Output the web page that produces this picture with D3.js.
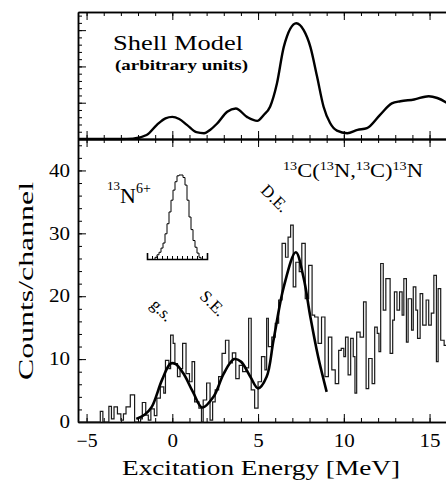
<!DOCTYPE html>
<html>
<head>
<meta charset="utf-8">
<title>13C(13N,13C)13N spectrum</title>
<script src="https://d3js.org/d3.v7.min.js"></script>
<style>
  body { margin: 0; background: #fff; }
  svg text { font-family: "Liberation Serif", "Times New Roman", serif; fill: #000; }
  .axis path, .axis line { stroke: #000; }
</style>
</head>
<body>
<svg id="chart" width="446" height="480"></svg>
<script>
// shell model curve (arbitrary units)
var smX = [-5.5, -3, -2.3, -1.5, -0.9, -0.4, 0, 0.4, 0.85, 1.4, 1.85, 2.2, 2.6, 3.2, 3.7, 4.35, 4.95, 5.33, 5.7, 6.1,
           6.5, 7.23, 7.66, 8.05, 8.44, 8.82, 9.2, 9.6, 10.2, 10.8, 11.35, 12.1, 12.8, 13.3, 14.1, 14.95, 15.45, 16, 16.6];
var smY = [0, 0, 0.01, 0.11, 0.39, 0.57, 0.61, 0.55, 0.39, 0.19, 0.16, 0.25, 0.42, 0.75, 0.84, 0.61, 0.5, 0.66, 0.89, 1.53,
           2.54, 3.19, 3.0, 2.54, 1.72, 0.89, 0.44, 0.23, 0.16, 0.25, 0.3, 0.66, 0.98, 1.04, 1.09, 1.18, 1.13, 1.0, 0.8];

// measured spectrum: left edge of each bin (MeV) and counts
var binEdges = [-5.5, -4.2, -4.05, -3.7, -3.55, -3.4, -3.2, -3.0, -2.85, -2.7,
                -2.45, -2.2, -1.85, -1.75, -1.55, -1.4, -1.25, -1.05, -0.9, -0.7,
                -0.5, -0.4, -0.2, -0.1, 0.05, 0.15, 0.3, 0.45, 0.6, 0.8,
                1.0, 1.15, 1.3, 1.55, 1.7, 1.8, 2.0, 2.2, 2.35, 2.5,
                2.7, 2.9, 3.1, 3.3, 3.5, 3.7, 3.9, 4.1, 4.3, 4.45,
                4.6, 4.8, 5.0, 5.2, 5.4, 5.5, 5.6, 5.8, 6.0, 6.2,
                6.4, 6.6, 6.75, 6.9, 7.05, 7.2, 7.4, 7.55, 7.75, 7.95,
                8.15, 8.3, 8.5, 8.7, 8.9, 9.1, 9.3, 9.5, 9.7, 9.85,
                10.0, 10.1, 10.25, 10.4, 10.55, 10.65, 10.75, 10.95, 11.15, 11.3,
                11.45, 11.65, 11.8, 11.95, 12.05, 12.15, 12.3, 12.45, 12.7, 12.85,
                12.95, 13.1, 13.25, 13.4, 13.5, 13.65, 13.75, 13.95, 14.05, 14.2,
                14.3, 14.45, 14.6, 14.8, 14.95, 15.1, 15.25, 15.4, 15.5, 15.65,
                15.85, 16.05];
var counts = [0, 1.7, 0, 2.5, 0.5, 2.4, 1.3, 0.3, 1.3, 2.4,
              4.3, 0, 0.5, 3.1, 1.1, 0.3, 2.1, 1, 3.8, 5.6,
              4.6, 9.8, 8.5, 13.8, 12.5, 9.3, 7.2, 8.5, 12.5, 7.7,
              6.4, 9.6, 3.2, 2.2, 0, 3.5, 6.2, 0.3, 3.2, 5.1,
              7.2, 10.9, 13, 9.4, 11, 6.9, 9, 8, 8.6, 16.5,
              5.1, 2.2, 6.4, 10.4, 8.3, 16.5, 12, 13.5, 15.7, 19.4,
              28.4, 26.2, 29.4, 31.3, 21.5, 25.4, 23.9, 28.4, 19.6, 24.9,
              17, 16.7, 12.5, 16.7, 7.2, 13.5, 8.3, 6.1, 11.4, 11.7,
              10.4, 13.5, 7.5, 13.3, 10.4, 4.6, 14.3, 13.5, 19.1, 5.3,
              10.1, 6.1, 15.1, 14.1, 11.2, 25.2, 17.8, 22.8, 10.9, 16.2,
              20.7, 17.8, 20.7, 17, 22.8, 12.7, 19.6, 14.6, 21.5, 17.8,
              13.3, 20.4, 15.4, 19.4, 15.4, 17.3, 23.3, 9.6, 21.2, 13,
              12.2, 17];

// fit through g.s., S.E., D.E.
var fitX = [-2.1, -1.6, -1.2, -0.6, -0.1, 0.2, 0.65, 1.2, 1.75, 2.4, 3.0, 3.6, 4.0, 4.55, 5.0, 5.5, 5.9, 6.5, 7.2, 7.65, 8.05, 8.5, 9.0];
var fitY = [0.5, 1.2, 2.4, 6.7, 9.3, 9.2, 7.7, 4.8, 2.3, 4.0, 7.7, 10.0, 9.6, 7.2, 5.35, 7.2, 13, 21.5, 27, 23, 16.7, 10.4, 4.8];

// inset: 13N6+ beam peak (channels, relative counts)
var insetChannels = [4, 5, 6, 7, 8, 9, 10, 11, 12, 13, 14, 15, 16, 17, 18, 19, 20, 21, 22, 23, 24, 25, 26];
var insetCounts = [2, 5, 8, 13, 19, 30, 42, 56, 70, 82, 92, 99, 100, 100, 97, 88, 70, 50, 35, 22, 14, 7, 2];

var xMajor = [-5, 0, 5, 10, 15];
var yMajor = [0, 10, 20, 30, 40];

var svg = d3.select("#chart");

var x = d3.scaleLinear().domain([-5.5, 16.6]).range([78, 457]);
var yTop = d3.scaleLinear().domain([0, 3.5]).range([139, 12]);
var yBot = d3.scaleLinear().domain([0, 45]).range([422, 139]);

var xMinor = d3.range(-5, 17, 1);
var serif = "'Liberation Serif', 'Times New Roman', serif";

function styleAxis(g, w) {
    g.attr("class", "axis").attr("font-family", null);
    g.select(".domain").attr("stroke-width", w);
    g.selectAll(".tick line").attr("stroke-width", 1);
    g.selectAll("text")
        .style("font-family", serif).style("font-size", "18px").attr("fill", "#000")
        .attr("textLength", function () { return this.textContent.length * 10.5; })
        .attr("lengthAdjust", "spacingAndGlyphs");
}

// ---- bottom axis of lower panel
svg.append("g").attr("transform", "translate(0,422)")
    .call(d3.axisBottom(x).tickValues(xMinor).tickSize(-4).tickSizeOuter(0).tickFormat(""))
    .call(styleAxis, 1.5);
svg.append("g").attr("transform", "translate(0,422)")
    .call(d3.axisBottom(x).tickValues(xMajor).tickSize(-8).tickSizeOuter(0).tickPadding(12)
        .tickFormat(function (d) { return d < 0 ? "\u2212" + Math.abs(d) : d; }))
    .call(styleAxis, 1.5);

// ---- middle line: ticks up (top panel) and down (lower panel)
[-4, 4].forEach(function (s) {
    svg.append("g").attr("transform", "translate(0,139)")
        .call(d3.axisBottom(x).tickValues(xMinor).tickSize(s).tickSizeOuter(0).tickFormat(""))
        .call(styleAxis, 1.5);
});
[-8, 8].forEach(function (s) {
    svg.append("g").attr("transform", "translate(0,139)")
        .call(d3.axisBottom(x).tickValues(xMajor).tickSize(s).tickSizeOuter(0).tickFormat(""))
        .call(styleAxis, 1.5);
});

// ---- top line
svg.append("g").attr("transform", "translate(0,12)")
    .call(d3.axisTop(x).tickValues(xMinor).tickSize(-4).tickSizeOuter(0).tickFormat(""))
    .call(styleAxis, 1.5);
svg.append("g").attr("transform", "translate(0,12)")
    .call(d3.axisTop(x).tickValues(xMajor).tickSize(-8).tickSizeOuter(0).tickFormat(""))
    .call(styleAxis, 1.5);

// ---- left axes
svg.append("g").attr("transform", "translate(78,0)")
    .call(d3.axisLeft(yBot).tickValues(d3.range(0, 46, 2)).tickSize(-4).tickSizeOuter(0).tickFormat(""))
    .call(styleAxis, 1.5);
svg.append("g").attr("transform", "translate(78,0)")
    .call(d3.axisLeft(yBot).tickValues(yMajor).tickSize(-8).tickSizeOuter(0).tickPadding(8))
    .call(styleAxis, 1.5);
svg.append("g").attr("transform", "translate(78,0)")
    .call(d3.axisLeft(yTop).tickValues(d3.range(0, 3.5, 0.2)).tickSize(-4).tickSizeOuter(0).tickFormat(""))
    .call(styleAxis, 1.5);
svg.append("g").attr("transform", "translate(78,0)")
    .call(d3.axisLeft(yTop).tickValues([0, 1, 2, 3]).tickSize(-8).tickSizeOuter(0).tickFormat(""))
    .call(styleAxis, 1.5);

// ---- shell model curve
var smLine = d3.line()
    .x(function (d, i) { return x(smX[i]); })
    .y(function (d) { return yTop(d); })
    .curve(d3.curveMonotoneX);
svg.append("path").datum(smY)
    .attr("d", smLine)
    .attr("fill", "none").attr("stroke", "#000").attr("stroke-width", 2.4);

// ---- histogram
var histPts = binEdges.map(function (e, i) { return [e, counts[i]]; });
histPts.push([16.6, counts[counts.length - 1]]);
var histLine = d3.line()
    .x(function (d) { return x(d[0]); })
    .y(function (d) { return yBot(d[1]); })
    .curve(d3.curveStepAfter);
svg.append("path").datum(histPts)
    .attr("d", histLine)
    .attr("fill", "none").attr("stroke", "#1a1a1a").attr("stroke-width", 1.2);

// ---- fit
var fitLine = d3.line()
    .x(function (d, i) { return x(fitX[i]); })
    .y(function (d) { return yBot(d); })
    .curve(d3.curveCatmullRom);
svg.append("path").datum(fitY)
    .attr("d", fitLine)
    .attr("fill", "none").attr("stroke", "#000").attr("stroke-width", 2.6);

// ---- inset
var ix = d3.scaleLinear().domain([0, 30]).range([147, 207]);
var iy = d3.scaleLinear().domain([0, 100]).range([259, 175]);
var insetPts = insetChannels.map(function (c, i) { return [c, insetCounts[i]]; });
insetPts.unshift([insetChannels[0], 0]);
insetPts.push([insetChannels[insetChannels.length - 1] + 1, 0]);
svg.append("path").datum(insetPts)
    .attr("d", d3.line().x(function (d) { return ix(d[0]); }).y(function (d) { return iy(d[1]); }).curve(d3.curveStepAfter))
    .attr("fill", "none").attr("stroke", "#000").attr("stroke-width", 1);
svg.append("g").attr("transform", "translate(0,259)")
    .call(d3.axisBottom(ix).tickValues(d3.range(2.5, 30, 2.5)).tickSize(-3).tickSizeOuter(-6).tickFormat(""))
    .call(styleAxis, 1.6);

// ---- texts
function stretch(t, len) {
    return t.attr("textLength", len).attr("lengthAdjust", "spacingAndGlyphs");
}
stretch(svg.append("text").attr("x", 113).attr("y", 50)
    .style("font-size", "22px").text("Shell Model"), 130);
stretch(svg.append("text").attr("x", 115).attr("y", 70)
    .style("font-size", "15px").style("font-weight", "bold").text("(arbitrary units)"), 133);

var title = stretch(svg.append("text").attr("x", 283).attr("y", 177)
    .style("font-size", "19px"), 140);
[["13", true], ["C(", false], ["13", true], ["N,", false], ["13", true], ["C)", false], ["13", true], ["N", false]]
    .forEach(function (p) {
        title.append("tspan")
            .attr("dy", p[1] ? -7 : 7)
            .style("font-size", p[1] ? "12px" : "19px")
            .text(p[0]);
    });

var ion = svg.append("text").attr("x", 107).attr("y", 190);
ion.append("tspan").style("font-size", "13px").text("13");
ion.append("tspan").attr("dy", 13).style("font-size", "22px").text("N");
ion.append("tspan").attr("dy", -10).style("font-size", "14px").text("6+");

[["g.s.", 162, 310], ["S.E.", 213, 303], ["D.E.", 275, 198]].forEach(function (l) {
    svg.append("text")
        .attr("transform", "translate(" + l[1] + "," + l[2] + ") rotate(45)")
        .attr("text-anchor", "middle").attr("dy", "0.35em")
        .style("font-size", "17px").text(l[0]);
});

stretch(svg.append("text")
    .attr("transform", "translate(33,281) rotate(-90)")
    .attr("text-anchor", "middle")
    .style("font-size", "21px").text("Counts/channel"), 198);

stretch(svg.append("text").attr("x", 261).attr("y", 475)
    .attr("text-anchor", "middle")
    .style("font-size", "22px").text("Excitation Energy [MeV]"), 278);
</script>
</body>
</html>
